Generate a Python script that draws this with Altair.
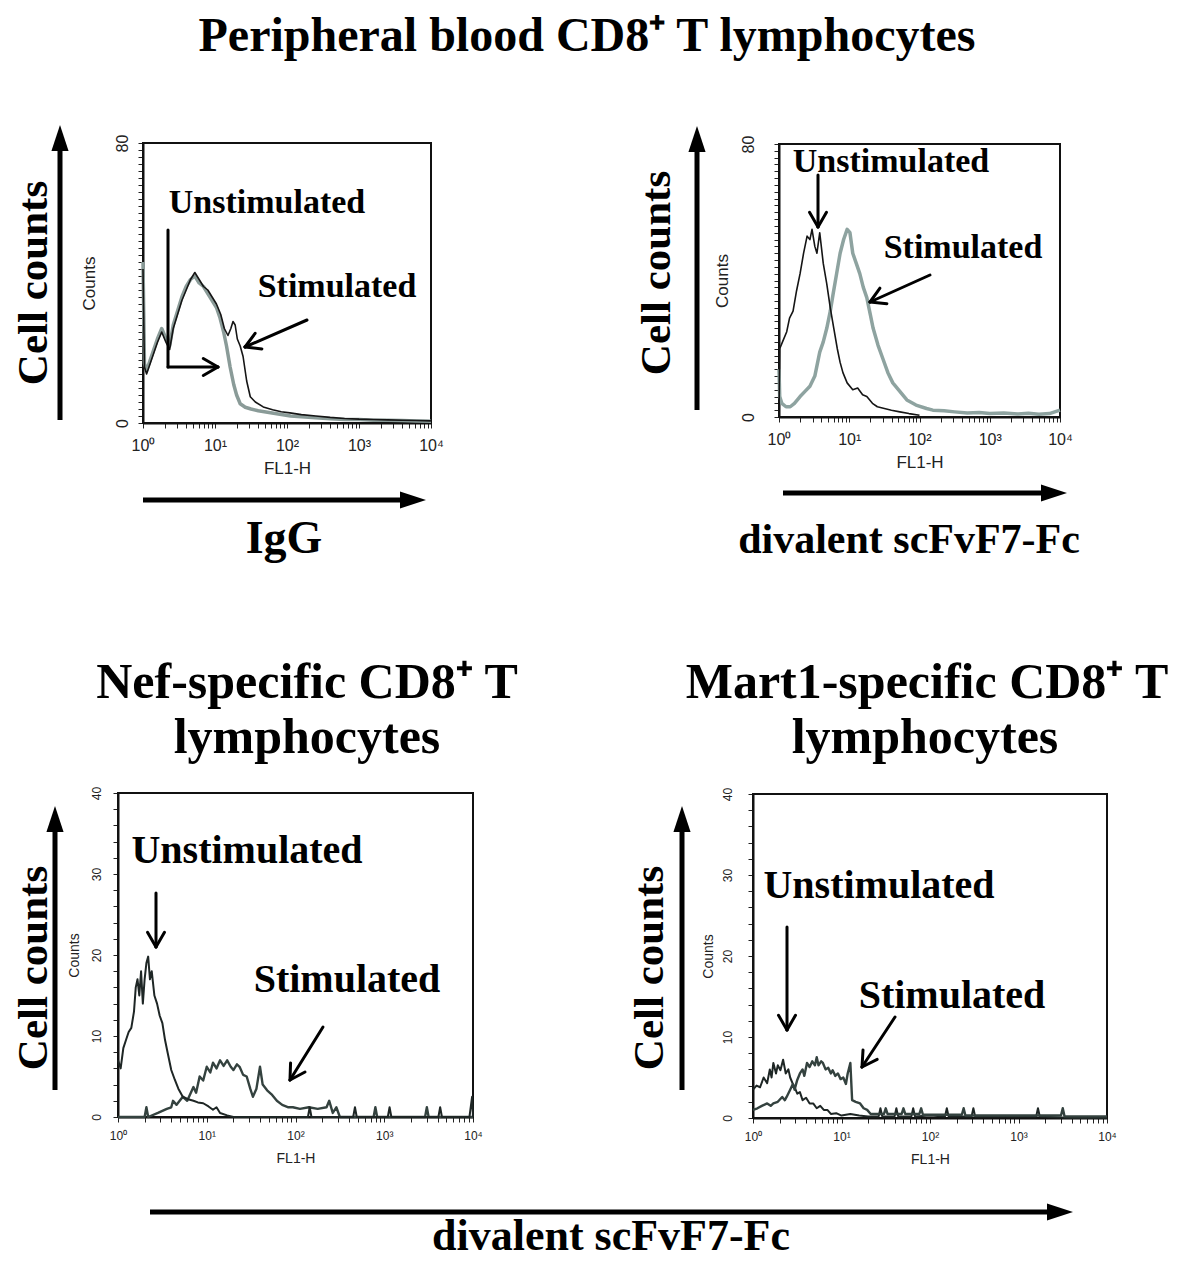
import math
import altair as alt
import pandas as pd

# ---------------------------------------------------------------------------
# Canvas (page has an 8px margin; layout numbers below are page pixels)
W, H = 1165, 1252
M = 8

# ---------------------------------------------------------------------------
# DATA  (x = exponent of FL1-H fluorescence, i.e. 10**x ; y = cell counts)

# Panel 1 : peripheral blood CD8+ T, IgG
p1_unstim_exp = [0.00, 0.02, 0.05, 0.10, 0.15, 0.20, 0.26, 0.32, 0.37, 0.42,
                 0.48, 0.54, 0.60, 0.66, 0.72, 0.78, 0.84, 0.90, 0.96, 1.02,
                 1.07, 1.12, 1.16, 1.21, 1.26, 1.30, 1.35, 1.42, 1.50, 1.60,
                 1.75, 1.90, 2.05, 2.20, 2.40, 2.60, 2.80, 3.00, 3.20, 3.40,
                 3.60, 3.80, 4.00]
p1_unstim_cnt = [46, 17, 15, 18, 21, 24, 27, 24, 22, 28,
                 32, 36, 39, 41, 42, 40, 39, 37, 35, 33,
                 30, 26, 22, 16, 11, 8, 5.5, 4.5, 4, 3.5,
                 3, 2.5, 2, 1.8, 1.5, 1.2, 1, 1, 0.8, 0.8,
                 0.7, 0.6, 0.5]
p1_stim_exp = [0.00, 0.02, 0.05, 0.10, 0.15, 0.20, 0.26, 0.32, 0.37, 0.42,
               0.48, 0.54, 0.60, 0.66, 0.72, 0.78, 0.84, 0.90, 0.96, 1.02,
               1.08, 1.13, 1.18, 1.22, 1.25, 1.28, 1.31, 1.35, 1.39, 1.44,
               1.49, 1.56, 1.67, 1.80, 1.92, 2.04, 2.20, 2.40, 2.60, 2.80,
               3.00, 3.20, 3.40, 3.60, 3.80, 4.00]
p1_stim_cnt = [44, 16, 14, 17, 20, 23, 26, 23, 21, 27,
               31, 35, 38, 41, 43, 41, 39, 38, 36, 34,
               31, 27, 25, 27, 29, 28, 24, 22, 19, 12,
               7.5, 6, 4.6, 3.8, 3.2, 2.9, 2.4, 2, 1.6, 1.3,
               1.1, 1, 0.9, 0.8, 0.7, 0.6]

# Panel 2 : peripheral blood CD8+ T, divalent scFvF7-Fc
p2_unstim_exp = [0.00, 0.01, 0.05, 0.11, 0.15, 0.20, 0.25, 0.30, 0.35, 0.40,
                 0.44, 0.47, 0.51, 0.54, 0.58, 0.63, 0.68, 0.73, 0.78, 0.83,
                 0.87, 0.91, 0.97, 1.05, 1.12, 1.19, 1.25, 1.33, 1.40, 1.50,
                 1.60, 1.72, 1.85, 2.00]
p2_unstim_cnt = [0, 20, 22, 25, 29, 31, 37, 42, 48, 53,
                 52, 55, 50, 48, 54, 45, 39, 32, 26, 20,
                 16, 13, 10, 8, 8.5, 6.5, 6, 4, 3, 2.5,
                 2, 1.5, 1, 0.5]
p2_stim_exp = [0.00, 0.01, 0.04, 0.10, 0.16, 0.22, 0.30, 0.37, 0.44, 0.51,
               0.58, 0.63, 0.68, 0.73, 0.77, 0.82, 0.87, 0.92, 0.97, 1.01,
               1.05, 1.10, 1.15, 1.20, 1.25, 1.30, 1.34, 1.41, 1.48, 1.55,
               1.62, 1.72, 1.82, 1.95, 2.10, 2.19, 2.35, 2.50, 2.68, 2.85,
               3.00, 3.20, 3.40, 3.55, 3.70, 3.85, 4.00]
p2_stim_cnt = [14, 6, 4, 3, 3, 4, 6, 7.5, 9, 12,
               19, 22, 26, 31, 36, 42, 48, 52, 55, 54,
               48, 45, 42, 38, 35, 30, 26, 21, 17, 13,
               10, 7.5, 5, 3.5, 2.5, 2, 1.8, 1.5, 1.2, 1.3,
               1, 1.2, 0.9, 1.1, 0.8, 1, 2]

# Panel 3 : Nef-specific CD8+ T
p3_unstim_exp = [0.00, 0.03, 0.06, 0.09, 0.12, 0.15, 0.18, 0.20, 0.22, 0.24,
                 0.26, 0.28, 0.30, 0.32, 0.34, 0.36, 0.38, 0.41, 0.44, 0.47,
                 0.50, 0.53, 0.56, 0.60, 0.64, 0.68, 0.73, 0.79, 0.85, 0.90,
                 0.96, 1.02, 1.07, 1.11, 1.15, 1.23, 1.30, 2.14, 2.16, 2.18,
                 2.65, 2.67, 2.69, 3.04, 3.06, 3.08, 3.61, 3.63, 3.65, 3.96,
                 3.99, 4.00]
p3_unstim_cnt = [7, 6, 8.5, 9.5, 10.5, 11, 13, 16, 17, 15,
                 18, 14, 17, 19, 19.8, 17, 18, 15, 14, 12.5,
                 11.6, 9.5, 7.9, 5.8, 4.6, 3.5, 2.5, 2.2, 2, 1.8,
                 1.7, 1.3, 0.9, 1.2, 0.5, 0.2, 0, 0, 1.2, 0,
                 0, 1.2, 0, 0, 1.2, 0, 0, 1.2, 0, 0,
                 2.5, 0]
p3_stim_exp = [0.00, 0.30, 0.32, 0.34, 0.45, 0.55, 0.60, 0.62, 0.66, 0.73,
               0.78, 0.85, 0.88, 0.92, 0.96, 1.00, 1.04, 1.07, 1.11, 1.15,
               1.19, 1.23, 1.27, 1.30, 1.34, 1.37, 1.41, 1.45, 1.49, 1.52,
               1.56, 1.60, 1.63, 1.68, 1.73, 1.79, 1.85, 1.92, 1.97, 2.05,
               2.15, 2.25, 2.35, 2.38, 2.42, 2.46, 2.50, 2.88, 2.90, 2.92,
               3.46, 3.48, 3.50, 4.00]
p3_stim_cnt = [0, 0, 1.2, 0, 0.5, 1, 1.2, 2, 1.5, 2.5,
               2, 3.7, 3, 5, 4.5, 6.2, 5.5, 6.7, 6, 7,
               6.3, 7, 6.2, 5.8, 6.5, 6.2, 5.2, 5, 3.5, 2.5,
               3.5, 6.2, 4, 3.3, 2.8, 2, 1.5, 1.2, 1.2, 1,
               1.2, 1, 1.2, 2, 0.5, 1.2, 0, 0, 1.2, 0,
               0, 1.2, 0, 0]

# Panel 4 : Mart1-specific CD8+ T
p4_unstim_exp = [0.00, 0.04, 0.08, 0.12, 0.16, 0.19, 0.21, 0.23, 0.26, 0.28,
                 0.31, 0.34, 0.37, 0.40, 0.42, 0.45, 0.47, 0.50, 0.53, 0.56,
                 0.60, 0.64, 0.68, 0.72, 0.76, 0.80, 0.84, 0.88, 0.94, 1.00,
                 1.10, 1.20, 1.30, 1.42, 1.44, 1.46, 1.60, 1.62, 1.64, 1.79,
                 1.81, 1.83, 2.00, 2.17, 2.19, 2.21, 2.47, 2.49, 2.51, 3.20,
                 3.22, 3.24, 3.60, 4.00]
p4_unstim_cnt = [3.5, 4, 3.8, 5, 4.3, 6, 5, 6.8, 5.5, 6.5,
                 5.9, 7.2, 5.5, 6, 5, 4.2, 3.8, 3, 3.2, 2.2,
                 2.5, 1.8, 1.8, 1.2, 1.5, 1, 1, 0.5, 0.6, 0.3,
                 0.5, 0.3, 0.2, 0.2, 1.2, 0.2, 0.2, 1.2, 0.2, 0.2,
                 1.2, 0.2, 0.3, 0.2, 1.2, 0.2, 0.2, 1.2, 0.2, 0.2,
                 1.2, 0.2, 0, 0]
p4_stim_exp = [0.00, 0.05, 0.10, 0.16, 0.20, 0.23, 0.28, 0.33, 0.36, 0.38,
               0.42, 0.45, 0.47, 0.50, 0.53, 0.56, 0.58, 0.61, 0.64, 0.67,
               0.70, 0.72, 0.74, 0.77, 0.79, 0.82, 0.85, 0.88, 0.90, 0.93,
               0.96, 0.99, 1.02, 1.05, 1.07, 1.10, 1.12, 1.16, 1.21, 1.25,
               1.29, 1.33, 1.48, 1.50, 1.52, 1.68, 1.70, 1.72, 1.88, 1.90,
               1.92, 2.36, 2.38, 2.40, 2.80, 3.48, 3.50, 3.52, 4.00]
p4_stim_cnt = [1, 1.2, 1.5, 1.8, 1.5, 1.8, 2, 2.6, 2.2, 2.6,
               3.5, 4.2, 3.5, 4.7, 5.5, 6, 5.2, 6.8, 6.3, 7,
               6.5, 7.5, 6.5, 7, 6.8, 6, 6.2, 5.5, 5.9, 5.2,
               5.5, 4.8, 5, 4.2, 5.5, 6.8, 2.2, 2, 1.8, 1.2,
               1, 0.5, 0.5, 1.2, 0.5, 0.5, 1.2, 0.5, 0.5, 1.2,
               0.4, 0.4, 1.2, 0.3, 0.3, 0.3, 1.2, 0.2, 0.2]

# Text content
title_text = "Peripheral blood CD8⁺ T lymphocytes"
ylab_text = "Cell counts"
xlab_texts = ["IgG", "divalent scFvF7-Fc", "divalent scFvF7-Fc"]
sub_titles = ["Nef-specific CD8⁺ T", "lymphocytes", "Mart1-specific CD8⁺ T", "lymphocytes"]
unstim_label = "Unstimulated"
stim_label = "Stimulated"
x_tick_labels = {1: "10⁰", 10: "10¹", 100: "10²", 1000: "10³", 10000: "10⁴"}

# ---------------------------------------------------------------------------
# LAYOUT (page pixels)
panels = [
    dict(x0=143, x1=431, yt=143, yb=423, ymax=80, lfs=16, tfs=17, ylp=8, ytp=16, xlp=9, xtp=7),
    dict(x0=779, x1=1060, yt=144, yb=417, ymax=80, lfs=16, tfs=17, ylp=18, ytp=9, xlp=9, xtp=7),
    dict(x0=118, x1=473, yt=793, yb=1117, ymax=40, lfs=12, tfs=14, ylp=10, ytp=9, xlp=8, xtp=10),
    dict(x0=753, x1=1107, yt=794, yb=1118, ymax=40, lfs=12, tfs=14, ylp=14, ytp=6, xlp=8, xtp=10),
]
series_style = [
    dict(u=("#8a9b98", 3.5), s=("#151515", 1.6), first="u"),
    dict(u=("#151515", 1.6), s=("#8ea3a0", 3.5), first="s"),
    dict(u=("#1e2625", 2.0), s=("#34423f", 2.4), first="s"),
    dict(u=("#1e2625", 2.0), s=("#34423f", 2.4), first="u"),
]
panel_data = [
    (p1_unstim_exp, p1_unstim_cnt, p1_stim_exp, p1_stim_cnt),
    (p2_unstim_exp, p2_unstim_cnt, p2_stim_exp, p2_stim_cnt),
    (p3_unstim_exp, p3_unstim_cnt, p3_stim_exp, p3_stim_cnt),
    (p4_unstim_exp, p4_unstim_cnt, p4_stim_exp, p4_stim_cnt),
]

SERIF = "Liberation Serif"
SANS = "Liberation Sans"

x_label_expr = " : ".join(
    f"datum.value == {k} ? '{v}'" for k, v in x_tick_labels.items()) + " : ''"
x_tick_values = [m * 10 ** k for k in range(4) for m in range(1, 10)] + [10000]


def make_panel(pl, st, dat):
    xs = alt.Scale(type="log", domain=[1, 10000], range=[pl["x0"] - M, pl["x1"] - M], nice=False)
    ys = alt.Scale(type="linear", domain=[0, pl["ymax"]], range=[pl["yb"] - M, pl["yt"] - M],
                   nice=False, zero=True)
    if pl["ymax"] == 80:
        ylab_expr = "datum.value == 0 || datum.value == 80 ? datum.label : ''"
    else:
        ylab_expr = "datum.value % 10 == 0 ? datum.label : ''"
    xaxis = alt.Axis(orient="bottom", offset=(pl["yb"] - M) - H, values=x_tick_values,
                     labelExpr=x_label_expr, title="FL1-H", grid=False,
                     labelFont=SANS, labelFontSize=pl["lfs"], labelColor="#222",
                     titleFont=SANS, titleFontSize=pl["tfs"], titleFontWeight="normal",
                     titleColor="#222", titlePadding=pl["xtp"], labelPadding=pl["xlp"],
                     tickSize=5, tickColor="#222", domainColor="#111", domainWidth=2,
                     labelOverlap=False, labelFlush=False)
    yaxis = alt.Axis(orient="left", offset=-(pl["x0"] - M), values=list(range(0, pl["ymax"] + 1, 2)),
                     labelExpr=ylab_expr, title="Counts", grid=False,
                     labelFont=SANS, labelFontSize=pl["lfs"], labelColor="#222",
                     labelAngle=270, labelAlign="center", labelBaseline="bottom",
                     titleFont=SANS, titleFontSize=pl["tfs"], titleFontWeight="normal",
                     titleColor="#222", titlePadding=pl["ytp"], labelPadding=pl["ylp"],
                     tickSize=5, tickColor="#222", domainColor="#111", domainWidth=2,
                     labelOverlap=False, labelFlush=False)

    ue, uc, se, sc = dat
    df_u = pd.DataFrame({"fl": [10 ** e for e in ue], "count": uc})
    df_s = pd.DataFrame({"fl": [10 ** e for e in se], "count": sc})

    def line(df, style):
        col, w = style
        return alt.Chart(df).mark_line(color=col, strokeWidth=w, interpolate="linear",
                                       strokeJoin="round").encode(
            x=alt.X("fl:Q", scale=xs, axis=xaxis),
            y=alt.Y("count:Q", scale=ys, axis=yaxis),
        )

    frame_df = pd.DataFrame({"xl": [1], "xh": [10000], "yl": [0], "yh": [pl["ymax"]]})
    frame = alt.Chart(frame_df).mark_rect(fillOpacity=0, stroke="#111", strokeWidth=2).encode(
        x=alt.X("xl:Q", scale=xs, axis=xaxis), x2="xh:Q",
        y=alt.Y("yl:Q", scale=ys, axis=yaxis), y2="yh:Q",
    )
    lu = line(df_u, st["u"])
    ls = line(df_s, st["s"])
    order = [lu, ls] if st["first"] == "u" else [ls, lu]
    return alt.layer(frame, *order)


panel_layers = [make_panel(pl, st, d) for pl, st, d in zip(panels, series_style, panel_data)]

# ---------------------------------------------------------------------------
# Annotation text (page px: x, baseline y, font size, angle)
texts = [
    (title_text, 587, 51, 48, 0),
    (ylab_text, 47, 283, 43, 270),
    (ylab_text, 670, 273, 43, 270),
    (ylab_text, 47, 968, 43, 270),
    (ylab_text, 663, 968, 43, 270),
    (xlab_texts[0], 284, 553, 46, 0),
    (xlab_texts[1], 909, 553, 42, 0),
    (xlab_texts[2], 611, 1250, 44, 0),
    (sub_titles[0], 307, 698, 50, 0),
    (sub_titles[1], 307, 753, 50, 0),
    (sub_titles[2], 927, 698, 50, 0),
    (sub_titles[3], 925, 753, 50, 0),
    (unstim_label, 267, 213, 34, 0),
    (stim_label, 337, 297, 34, 0),
    (unstim_label, 891, 172, 34, 0),
    (stim_label, 963, 258, 34, 0),
    (unstim_label, 247, 863, 40, 0),
    (stim_label, 347, 992, 40, 0),
    (unstim_label, 879, 898, 40, 0),
    (stim_label, 952, 1008, 40, 0),
]
text_df = pd.DataFrame({
    "t": [t[0] for t in texts],
    "x": [t[1] - M for t in texts],
    "y": [t[2] - M for t in texts],
    "s": [t[3] for t in texts],
    "a": [t[4] for t in texts],
})
text_layer = alt.Chart(text_df).mark_text(font=SERIF, fontWeight="bold", align="center",
                                          baseline="alphabetic", color="black").encode(
    x=alt.X("x:Q", scale=None, axis=None),
    y=alt.Y("y:Q", scale=None, axis=None),
    text="t:N",
    size=alt.Size("s:Q", scale=None, legend=None),
    angle=alt.Angle("a:Q", scale=None, legend=None),
)

# Thin annotation arrows (page px polylines; head at last point)
thin_arrows = [
    [(168, 230), (168, 367), (218, 367)],
    [(307, 320), (245, 347)],
    [(818, 175), (818, 227)],
    [(930, 275), (870, 302)],
    [(156, 893), (156, 947)],
    [(323, 1027), (290, 1080)],
    [(787, 927), (787, 1030)],
    [(895, 1017), (862, 1067)],
]
HEAD_LEN, HEAD_ANG = 17, math.radians(30)
segs = []
for poly in thin_arrows:
    for a, b in zip(poly[:-1], poly[1:]):
        segs.append((a[0], a[1], b[0], b[1]))
    (fx, fy), (tx, ty) = poly[-2], poly[-1]
    d = math.atan2(ty - fy, tx - fx)
    for sgn in (1, -1):
        ang = d + math.pi + sgn * HEAD_ANG
        segs.append((tx, ty, tx + HEAD_LEN * math.cos(ang), ty + HEAD_LEN * math.sin(ang)))
seg_df = pd.DataFrame({
    "x": [s[0] - M for s in segs], "y": [s[1] - M for s in segs],
    "x2": [s[2] - M for s in segs], "y2": [s[3] - M for s in segs],
})
thin_layer = alt.Chart(seg_df).mark_rule(color="black", strokeWidth=3, strokeCap="round").encode(
    x=alt.X("x:Q", scale=None, axis=None), y=alt.Y("y:Q", scale=None, axis=None),
    x2="x2:Q", y2="y2:Q",
)

# Thick axis arrows (page px: base -> tip)
big_arrows = [
    ((60, 420), (60, 125)),
    ((697, 410), (697, 126)),
    ((55, 1090), (55, 806)),
    ((682, 1090), (682, 806)),
    ((143, 500), (426, 500)),
    ((783, 493), (1067, 493)),
    ((150, 1212), (1073, 1212)),
]
BIG_HEAD = 26
shaft, heads = [], []
for (bx, by), (tx, ty) in big_arrows:
    L = math.hypot(tx - bx, ty - by)
    ux, uy = (tx - bx) / L, (ty - by) / L
    shaft.append((bx, by, tx - ux * (BIG_HEAD - 2), ty - uy * (BIG_HEAD - 2)))
    ang = (math.degrees(math.atan2(uy, ux)) + 90) % 360
    heads.append((tx - ux * BIG_HEAD / 2, ty - uy * BIG_HEAD / 2, ang))
shaft_df = pd.DataFrame({
    "x": [s[0] - M for s in shaft], "y": [s[1] - M for s in shaft],
    "x2": [s[2] - M for s in shaft], "y2": [s[3] - M for s in shaft],
})
head_df = pd.DataFrame({
    "x": [h[0] - M for h in heads], "y": [h[1] - M for h in heads], "a": [h[2] for h in heads],
})
shaft_layer = alt.Chart(shaft_df).mark_rule(color="black", strokeWidth=5).encode(
    x=alt.X("x:Q", scale=None, axis=None), y=alt.Y("y:Q", scale=None, axis=None),
    x2="x2:Q", y2="y2:Q",
)
head_layer = alt.Chart(head_df).mark_point(
    shape="M0,-1L0.66,1L-0.66,1Z", filled=True, color="black", opacity=1,
    size=BIG_HEAD * BIG_HEAD, strokeWidth=0,
).encode(
    x=alt.X("x:Q", scale=None, axis=None), y=alt.Y("y:Q", scale=None, axis=None),
    angle=alt.Angle("a:Q", scale=None, legend=None),
)

chart = alt.layer(
    *panel_layers, thin_layer, shaft_layer, head_layer, text_layer
).resolve_scale(
    x="independent", y="independent", size="independent", angle="independent"
).resolve_axis(
    x="independent", y="independent"
).properties(
    width=W, height=H, padding=0, autosize=alt.AutoSizeParams(type="none"),
    background="white",
).configure_view(stroke="transparent")

chart.save("out.html", embed_options={"renderer": "svg", "actions": False})
